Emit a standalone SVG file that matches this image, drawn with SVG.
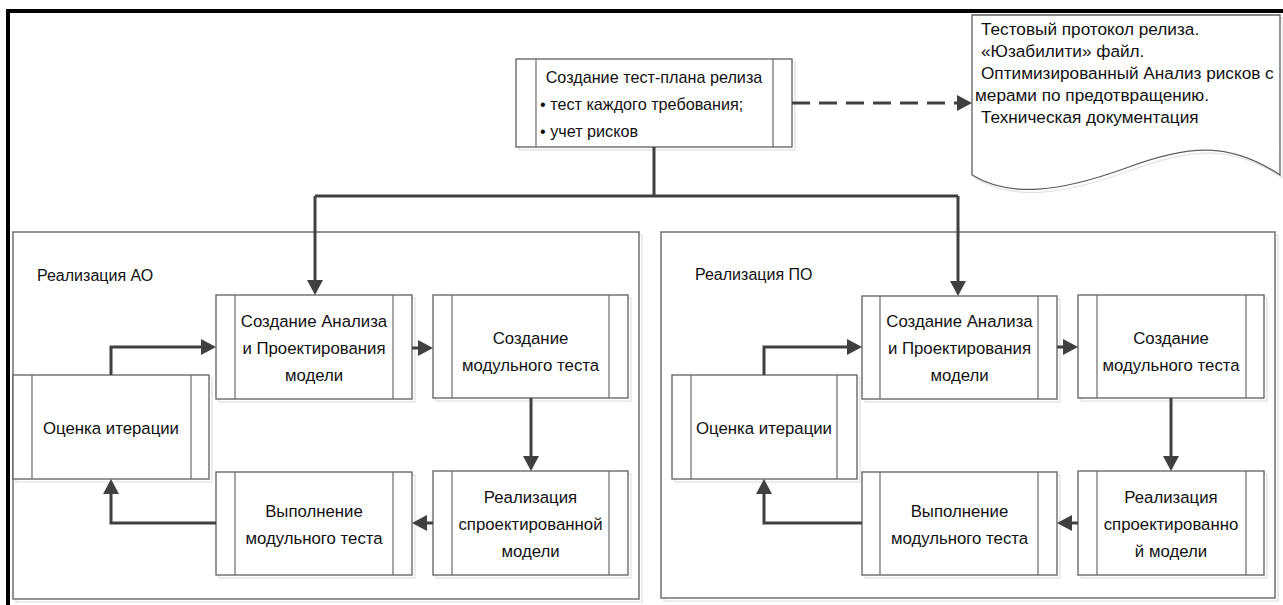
<svg xmlns="http://www.w3.org/2000/svg" width="1283" height="605" viewBox="0 0 1283 605">
<style>
text{font-family:"Liberation Sans",Arial,sans-serif;font-size:16.8px;fill:#111}
.c{text-anchor:middle}
.lbl{font-size:16px}
.tp{font-size:16.2px}
.doc{font-size:17.2px}
.box{fill:#fff;stroke:#5e5e5e;stroke-width:1.3}
.sh{fill:none;stroke:#e2e2e2;stroke-width:1.3}
.in{stroke:#6a6a6a;stroke-width:1.2}
.cont{fill:#fff;stroke:#707070;stroke-width:1.5}
.conn{fill:none;stroke:#404040;stroke-width:3;marker-end:url(#ah)}
</style>
<defs>
<marker id="ah" markerUnits="userSpaceOnUse" markerWidth="15" markerHeight="16" viewBox="0 0 15 16" refX="3" refY="8" orient="auto"><path d="M0,0 L15,8 L0,16 Z" fill="#404040"/></marker>
</defs>
<rect width="1283" height="605" fill="#fff"/>
<path d="M8,605 V11 H1283" fill="none" stroke="#000" stroke-width="4"/>

<g id="container-ao">
<rect class="sh" x="16" y="235" width="626" height="367"/>
<rect class="cont" x="13" y="232" width="626" height="367"/>
<text class="lbl" x="37" y="281">Реализация АО</text>
</g>
<g id="container-po">
<rect class="sh" x="664" y="235" width="614" height="366"/>
<rect class="cont" x="661" y="232" width="614" height="366"/>
<text class="lbl" x="695" y="280">Реализация ПО</text>
</g>

<g id="test-plan">
<rect class="sh" x="519" y="62" width="276" height="88"/>
<rect class="box" x="516" y="59" width="276" height="88"/>
<line class="in" x1="536" y1="59" x2="536" y2="147"/>
<line class="in" x1="773" y1="59" x2="773" y2="147"/>
<text class="c tp" x="654" y="83">Создание тест-плана релиза</text>
<text class="tp" x="540" y="110">• тест каждого требования;</text>
<text class="tp" x="540" y="137">• учет рисков</text>
</g>

<g id="document">
<path d="M975,18 H1283 V178 C1233,145 1193,147 1129,171 C1063,195 1013,201 975,178 Z" fill="none" stroke="#e2e2e2" stroke-width="1.3"/>
<path d="M972,15 H1280 V175 C1230,142 1190,144 1126,168 C1060,192 1010,198 972,175 Z" fill="#fff" stroke="#5e5e5e" stroke-width="1.3"/>
<text class="doc" x="981" y="35">Тестовый протокол релиза.</text>
<text class="doc" x="981" y="57">«Юзабилити» файл.</text>
<text class="doc" x="981" y="79">Оптимизированный Анализ рисков с</text>
<text class="doc" x="975" y="101">мерами по предотвращению.</text>
<text class="doc" x="981" y="123">Техническая документация</text>
</g>

<g id="ao-analysis">
<rect class="sh" x="219" y="298" width="196" height="104"/>
<rect class="box" x="216" y="295" width="196" height="104"/>
<line class="in" x1="235" y1="295" x2="235" y2="399"/>
<line class="in" x1="393" y1="295" x2="393" y2="399"/>
<text class="c" x="314" y="327">Создание Анализа</text>
<text class="c" x="314" y="354">и Проектирования</text>
<text class="c" x="314" y="381">модели</text>
</g>
<g id="ao-unit-test">
<rect class="sh" x="436" y="298" width="195" height="103"/>
<rect class="box" x="433" y="295" width="195" height="103"/>
<line class="in" x1="452" y1="295" x2="452" y2="398"/>
<line class="in" x1="609" y1="295" x2="609" y2="398"/>
<text class="c" x="530.5" y="344">Создание</text>
<text class="c" x="530.5" y="371">модульного теста</text>
</g>
<g id="ao-implement">
<rect class="sh" x="436" y="474" width="195" height="104"/>
<rect class="box" x="433" y="471" width="195" height="104"/>
<line class="in" x1="452" y1="471" x2="452" y2="575"/>
<line class="in" x1="609" y1="471" x2="609" y2="575"/>
<text class="c" x="530.5" y="503">Реализация</text>
<text class="c" x="530.5" y="530">спроектированной</text>
<text class="c" x="530.5" y="557">модели</text>
</g>
<g id="ao-run-test">
<rect class="sh" x="219" y="475" width="196" height="103"/>
<rect class="box" x="216" y="472" width="196" height="103"/>
<line class="in" x1="235" y1="472" x2="235" y2="575"/>
<line class="in" x1="393" y1="472" x2="393" y2="575"/>
<text class="c" x="314" y="517">Выполнение</text>
<text class="c" x="314" y="544">модульного теста</text>
</g>
<g id="ao-eval">
<rect class="sh" x="16" y="378" width="196" height="104"/>
<rect class="box" x="13" y="375" width="196" height="104"/>
<line class="in" x1="32" y1="375" x2="32" y2="479"/>
<line class="in" x1="191" y1="375" x2="191" y2="479"/>
<text class="c" x="111" y="434">Оценка итерации</text>
</g>

<g id="po-analysis">
<rect class="sh" x="865" y="299" width="195" height="103"/>
<rect class="box" x="862" y="296" width="195" height="103"/>
<line class="in" x1="880" y1="296" x2="880" y2="399"/>
<line class="in" x1="1038" y1="296" x2="1038" y2="399"/>
<text class="c" x="959.5" y="327">Создание Анализа</text>
<text class="c" x="959.5" y="354">и Проектирования</text>
<text class="c" x="959.5" y="381">модели</text>
</g>
<g id="po-unit-test">
<rect class="sh" x="1081" y="298" width="186" height="103"/>
<rect class="box" x="1078" y="295" width="186" height="103"/>
<line class="in" x1="1097" y1="295" x2="1097" y2="398"/>
<line class="in" x1="1246" y1="295" x2="1246" y2="398"/>
<text class="c" x="1171" y="344">Создание</text>
<text class="c" x="1171" y="371">модульного теста</text>
</g>
<g id="po-implement">
<rect class="sh" x="1081" y="474" width="186" height="104"/>
<rect class="box" x="1078" y="471" width="186" height="104"/>
<line class="in" x1="1097" y1="471" x2="1097" y2="575"/>
<line class="in" x1="1246" y1="471" x2="1246" y2="575"/>
<text class="c" x="1171" y="503">Реализация</text>
<text class="c" x="1171" y="530">спроектированно</text>
<text class="c" x="1171" y="557">й модели</text>
</g>
<g id="po-run-test">
<rect class="sh" x="865" y="475" width="195" height="103"/>
<rect class="box" x="862" y="472" width="195" height="103"/>
<line class="in" x1="880" y1="472" x2="880" y2="575"/>
<line class="in" x1="1038" y1="472" x2="1038" y2="575"/>
<text class="c" x="959.5" y="517">Выполнение</text>
<text class="c" x="959.5" y="544">модульного теста</text>
</g>
<g id="po-eval">
<rect class="sh" x="675" y="378" width="185" height="104"/>
<rect class="box" x="672" y="375" width="185" height="104"/>
<line class="in" x1="691" y1="375" x2="691" y2="479"/>
<line class="in" x1="837" y1="375" x2="837" y2="479"/>
<text class="c" x="764" y="434">Оценка итерации</text>
</g>

<g id="connectors">
<path d="M654,147 V196 M315,196 H958" fill="none" stroke="#404040" stroke-width="3"/>
<path class="conn" d="M315,196 V283"/>
<path class="conn" d="M958,196 V284"/>
<path class="conn" d="M792,103 H960" stroke-dasharray="18 9"/>
<path class="conn" d="M111,375 V347 H204"/>
<path class="conn" d="M412,348 H421"/>
<path class="conn" d="M531,398 V459"/>
<path class="conn" d="M433,523 H424"/>
<path class="conn" d="M216,523 H111 V491"/>
<path class="conn" d="M764,375 V347 H850"/>
<path class="conn" d="M1057,347 H1066"/>
<path class="conn" d="M1171,398 V459"/>
<path class="conn" d="M1078,523 H1069"/>
<path class="conn" d="M862,523 H764 V491"/>
</g>
</svg>
